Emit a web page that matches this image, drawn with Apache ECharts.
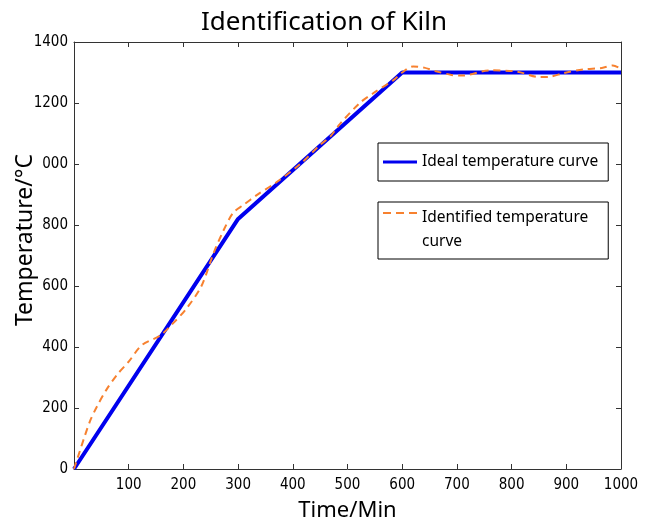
<!DOCTYPE html>
<html>
<head>
<meta charset="utf-8">
<script src="https://cdn.jsdelivr.net/npm/echarts@6/dist/echarts.min.js"></script>
<style>
  html, body { margin: 0; padding: 0; background: #fff; }
  #main { width: 648px; height: 527px; }
</style>
</head>
<body>
<div id="main"></div>
<script>
// 理想曲线 (折线拐点)
var idealTime = [0, 300, 600, 1000];
var idealTemp = [0, 820, 1300, 1300];
// 辨识曲线
var identTime = [0, 10, 20, 30, 42, 60, 81, 100, 124, 157, 179, 206, 233, 255, 273, 291, 310, 334, 370, 413, 450, 468, 486, 523, 547, 584, 600, 620, 640, 660, 690, 710, 760, 810, 850, 870, 895, 930, 965, 985, 1000];
var identTemp = [0, 55, 110, 160, 205, 262, 314, 352, 406, 437, 474, 527, 600, 707, 781, 840, 866, 898, 940, 999, 1063, 1089, 1131, 1201, 1232, 1275, 1300, 1320, 1316, 1305, 1292, 1290, 1307, 1303, 1285, 1286, 1298, 1310, 1315, 1323, 1312];

function pairs(xs, ys) {
  return xs.map(function (x, i) { return [x, ys[i]]; });
}

var tickFont = "'DejaVu Sans Condensed', 'Liberation Sans Narrow', sans-serif";
var textFont = "'Noto Sans', 'Open Sans', sans-serif";

var frameAxis = {
  axisLine: { show: true, onZero: false, lineStyle: { color: "#333", width: 1 } },
  axisTick: { show: true, inside: true, length: 5, lineStyle: { color: "#333" } },
  splitLine: { show: false }
};

var option = {
  backgroundColor: "#fff",
  animation: false,
  title: {
    text: "Identification of Kiln",
    left: "center",
    top: 5,
    textStyle: { fontFamily: textFont, fontSize: 26, fontWeight: "normal", color: "#000" }
  },
  legend: [
    {
      data: ["Ideal temperature curve"],
      left: 378,
      top: 143,
      orient: "vertical",
      padding: [9, 10, 9, 5],
      itemWidth: 34,
      itemHeight: 3,
      icon: "rect",
      borderColor: "#000",
      borderWidth: 1,
      borderRadius: 0,
      textStyle: { fontFamily: textFont, fontSize: 15.5, color: "#000", lineHeight: 20 }
    },
    {
      data: ["Identified temperature curve"],
      left: 378,
      top: 202,
      orient: "vertical",
      padding: [4, 20, 5, 5],
      itemWidth: 34,
      itemHeight: 36,
      icon: "path://M0,0h8v2h-8z M13,0h8v2h-8z M26,0h8v2h-8z M0,35.9h0.1v0.1h-0.1z",
      borderColor: "#000",
      borderWidth: 1,
      borderRadius: 0,
      formatter: function () { return "Identified temperature\ncurve"; },
      textStyle: { fontFamily: textFont, fontSize: 15.5, color: "#000", lineHeight: 24 }
    }
  ],
  grid: { left: 74, right: 27, top: 42, bottom: 45, containLabel: false },
  xAxis: [
    Object.assign({
      type: "value",
      min: 0,
      max: 1000,
      interval: 100,
      name: "Time/Min",
      nameLocation: "middle",
      nameGap: 31,
      nameTextStyle: { fontFamily: textFont, fontSize: 22, color: "#000" },
      axisLabel: {
        fontFamily: tickFont, fontSize: 15, color: "#000", margin: 9,
        formatter: function (v) { return v === 0 ? "" : String(v); }
      }
    }, frameAxis),
    Object.assign({
      type: "value", position: "top", min: 0, max: 1000, interval: 100,
      axisLabel: { show: false }
    }, frameAxis)
  ],
  yAxis: [
    Object.assign({
      type: "value",
      min: 0,
      max: 1400,
      interval: 200,
      axisLabel: {
        fontFamily: tickFont, fontSize: 15, color: "#000", margin: 6,
        formatter: function (v) { return v === 1000 ? "000" : String(v); }
      }
    }, frameAxis),
    Object.assign({
      type: "value", position: "right", min: 0, max: 1400, interval: 200,
      axisLabel: { show: false }
    }, frameAxis)
  ],
  graphic: [
    {
      type: "text",
      x: 25,
      y: 240,
      rotation: Math.PI / 2,
      style: {
        text: "Temperature/°C",
        font: "23px " + textFont,
        fill: "#000",
        align: "center",
        verticalAlign: "middle"
      }
    }
  ],
  series: [
    {
      name: "Ideal temperature curve",
      type: "line",
      data: pairs(idealTime, idealTemp),
      symbol: "none",
      lineStyle: { color: "#0000ee", width: 4 },
      itemStyle: { color: "#0000ee" },
      z: 2
    },
    {
      name: "Identified temperature curve",
      type: "line",
      data: pairs(identTime, identTemp),
      symbol: "none",
      smooth: 0.3,
      lineStyle: { color: "#f7812f", width: 2, type: [7, 5] },
      itemStyle: { color: "#f7812f" },
      z: 3
    }
  ]
};

var chart = echarts.init(document.getElementById("main"));
chart.setOption(option);
</script>
</body>
</html>
